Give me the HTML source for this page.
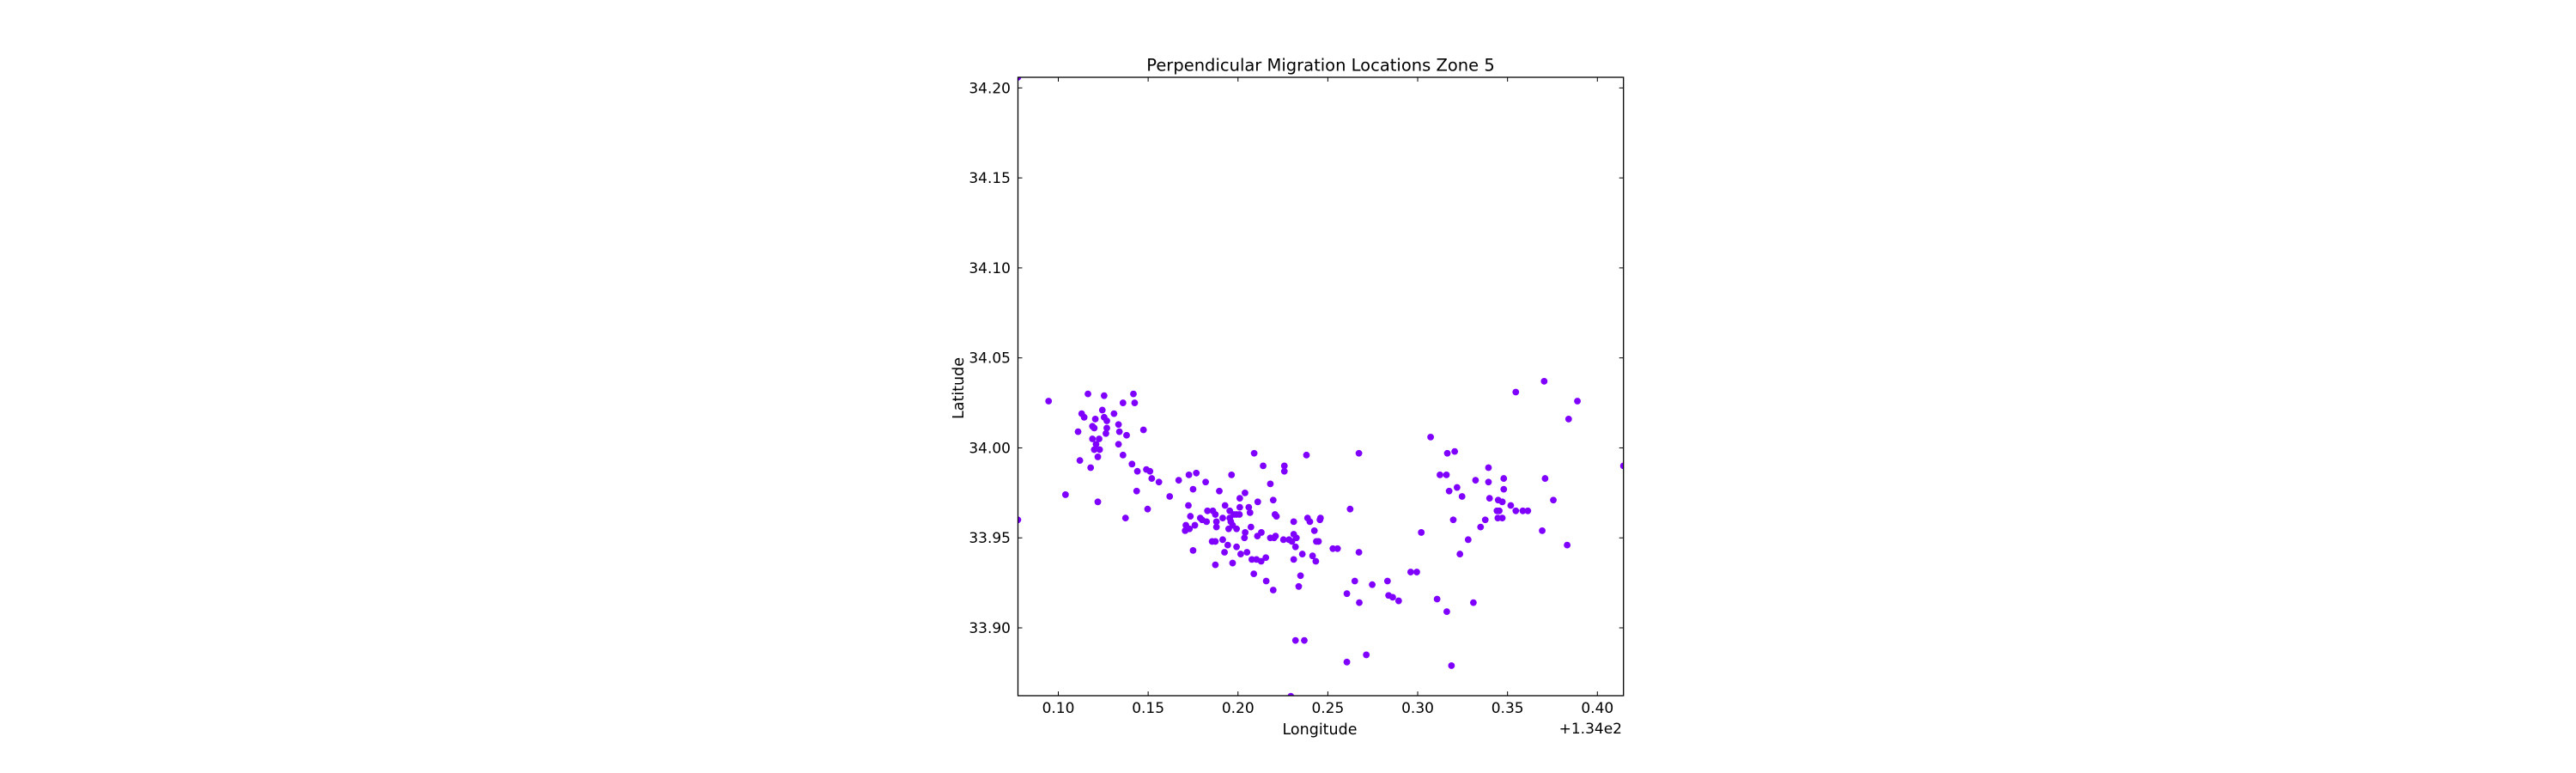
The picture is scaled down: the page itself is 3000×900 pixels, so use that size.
<!DOCTYPE html>
<html><head><meta charset="utf-8"><style>
html,body{margin:0;padding:0;background:#fff;}
svg{display:block;}
text{font-family:"DejaVu Sans","Liberation Sans",sans-serif;fill:#000;}
</style></head><body>
<svg id="chart" width="3000" height="900" viewBox="0 0 3000 900" xmlns="http://www.w3.org/2000/svg">
<rect width="3000" height="900" fill="#fff"/>
<defs><clipPath id="plotclip"><rect x="1185.5" y="90" width="705.2" height="720"/></clipPath></defs>
<text x="1538" y="82.5" font-size="19.5" text-anchor="middle">Perpendicular Migration Locations Zone 5</text>
<g id="ticks"></g>
<g id="points" clip-path="url(#plotclip)"></g>
<rect x="1185.5" y="90" width="705.2" height="720" fill="none" stroke="#000" stroke-width="1.3"/>
<text x="1537" y="855" font-size="17.5" text-anchor="middle">Longitude</text>
<text x="1889" y="854" font-size="17" text-anchor="end">+1.34e2</text>
<text x="0" y="0" font-size="17.5" text-anchor="middle" transform="translate(1122,452) rotate(-90)">Latitude</text>
</svg>
<script>
const lonValues=[0.0775,0.0775,0.0946,0.104,0.1165,0.113,0.1144,0.111,0.112,0.118,0.119,0.1206,0.120,0.119,0.1227,0.121,0.120,0.123,0.122,0.122,0.1255,0.1245,0.1255,0.127,0.127,0.1265,0.131,0.1335,0.134,0.1335,0.136,0.136,0.1374,0.138,0.1418,0.1425,0.141,0.144,0.1436,0.1474,0.149,0.151,0.1497,0.152,0.156,0.162,0.167,0.1727,0.1768,0.175,0.182,0.1724,0.1735,0.171,0.1706,0.173,0.176,0.175,0.179,0.180,0.1825,0.183,0.186,0.1874,0.1896,0.188,0.188,0.1856,0.1874,0.1874,0.1915,0.1928,0.1915,0.1925,0.1943,0.1954,0.1954,0.196,0.1964,0.1948,0.197,0.1977,0.1992,0.2008,0.1992,0.197,0.1992,0.201,0.201,0.2039,0.206,0.2067,0.2072,0.204,0.2036,0.205,0.2015,0.2077,0.2103,0.2088,0.209,0.211,0.2108,0.213,0.2129,0.2155,0.214,0.2157,0.218,0.2196,0.2206,0.2214,0.218,0.2201,0.2209,0.2196,0.2258,0.2258,0.2253,0.2284,0.231,0.231,0.2325,0.230,0.232,0.231,0.2294,0.232,0.2369,0.2348,0.2338,0.2358,0.2381,0.2387,0.24,0.2425,0.2415,0.2436,0.2448,0.2433,0.2459,0.2456,0.2528,0.2554,0.2624,0.2606,0.2606,0.265,0.2673,0.2673,0.2675,0.2714,0.2747,0.2832,0.2838,0.2861,0.2894,0.2961,0.2995,0.302,0.3072,0.3108,0.3124,0.316,0.3165,0.3206,0.3175,0.3162,0.3198,0.3188,0.3219,0.3247,0.3235,0.3281,0.331,0.3322,0.335,0.3376,0.3394,0.3394,0.340,0.3441,0.3454,0.3446,0.3448,0.3471,0.3471,0.3479,0.3479,0.3518,0.3546,0.3546,0.3585,0.3613,0.3693,0.3704,0.3709,0.3755,0.3832,0.384,0.3889,0.4145];
const latValues=[34.2059,33.960,34.026,33.974,34.030,34.019,34.017,34.009,33.993,33.989,34.012,34.016,34.011,34.005,34.005,34.002,33.999,33.999,33.995,33.970,34.029,34.021,34.017,34.015,34.011,34.008,34.019,34.013,34.009,34.002,34.025,33.996,33.961,34.007,34.030,34.025,33.991,33.987,33.976,34.010,33.988,33.987,33.966,33.983,33.981,33.973,33.982,33.985,33.986,33.977,33.981,33.968,33.962,33.957,33.954,33.955,33.957,33.943,33.961,33.960,33.959,33.965,33.965,33.963,33.976,33.959,33.956,33.948,33.948,33.935,33.961,33.968,33.949,33.942,33.946,33.965,33.961,33.959,33.985,33.955,33.957,33.963,33.963,33.963,33.955,33.936,33.945,33.972,33.967,33.975,33.967,33.964,33.956,33.953,33.950,33.942,33.941,33.938,33.938,33.930,33.997,33.970,33.951,33.953,33.937,33.939,33.990,33.926,33.980,33.971,33.963,33.962,33.950,33.950,33.951,33.921,33.990,33.987,33.949,33.949,33.959,33.952,33.950,33.948,33.945,33.938,33.862,33.893,33.893,33.929,33.923,33.941,33.996,33.961,33.959,33.954,33.940,33.948,33.948,33.937,33.961,33.960,33.944,33.944,33.966,33.919,33.881,33.926,33.997,33.942,33.914,33.885,33.924,33.926,33.918,33.917,33.915,33.931,33.931,33.953,34.006,33.916,33.985,33.985,33.997,33.998,33.976,33.909,33.960,33.879,33.978,33.973,33.941,33.949,33.914,33.982,33.956,33.960,33.989,33.981,33.972,33.965,33.965,33.961,33.971,33.970,33.961,33.983,33.977,33.968,34.031,33.965,33.965,33.965,33.954,34.037,33.983,33.971,33.946,34.016,34.026,33.990];
const xTickValues=[0.10,0.15,0.20,0.25,0.30,0.35,0.40];
const xTickLabels=["0.10","0.15","0.20","0.25","0.30","0.35","0.40"];
const yTickValues=[33.90,33.95,34.00,34.05,34.10,34.15,34.20];
const yTickLabels=["33.90","33.95","34.00","34.05","34.10","34.15","34.20"];

const X0=1185.5,X1=1890.7,Y0=90,Y1=810;
const lonMin=0.07754,lonMax=0.41453,latMin=33.8623,latMax=34.2059;
function sx(v){return X0+(v-lonMin)/(lonMax-lonMin)*(X1-X0);}
function sy(v){return Y1-(v-latMin)/(latMax-latMin)*(Y1-Y0);}
const NS="http://www.w3.org/2000/svg";
const pts=document.getElementById('points');
for(let i=0;i<lonValues.length;i++){
  const c=document.createElementNS(NS,'circle');
  c.setAttribute('cx',sx(lonValues[i]));
  c.setAttribute('cy',sy(latValues[i]));
  c.setAttribute('r',3.9);
  c.setAttribute('fill','#8000ff');
  
  
  pts.appendChild(c);
}
const tg=document.getElementById('ticks');
function line(x1,y1,x2,y2){
  const l=document.createElementNS(NS,'line');
  l.setAttribute('x1',x1);l.setAttribute('y1',y1);l.setAttribute('x2',x2);l.setAttribute('y2',y2);
  l.setAttribute('stroke','#000');l.setAttribute('stroke-width','1');
  
  
  tg.appendChild(l);
}
xTickValues.forEach((v,i)=>{
  const x=sx(v);
  line(x,Y1,x,Y1-5);line(x,Y0,x,Y0+5);
  const t=document.createElementNS(NS,'text');
  t.setAttribute('x',x);t.setAttribute('y',830);t.setAttribute('font-size','17');t.setAttribute('text-anchor','middle');
  t.textContent=xTickLabels[i];
  
  
  tg.appendChild(t);
});
yTickValues.forEach((v,i)=>{
  const y=sy(v);
  line(X0,y,X0+5,y);line(X1,y,X1-5,y);
  const t=document.createElementNS(NS,'text');
  t.setAttribute('x',1177);t.setAttribute('y',y+6);t.setAttribute('font-size','17');t.setAttribute('text-anchor','end');
  t.textContent=yTickLabels[i];
  
  
  tg.appendChild(t);
});
</script>
</body></html>
